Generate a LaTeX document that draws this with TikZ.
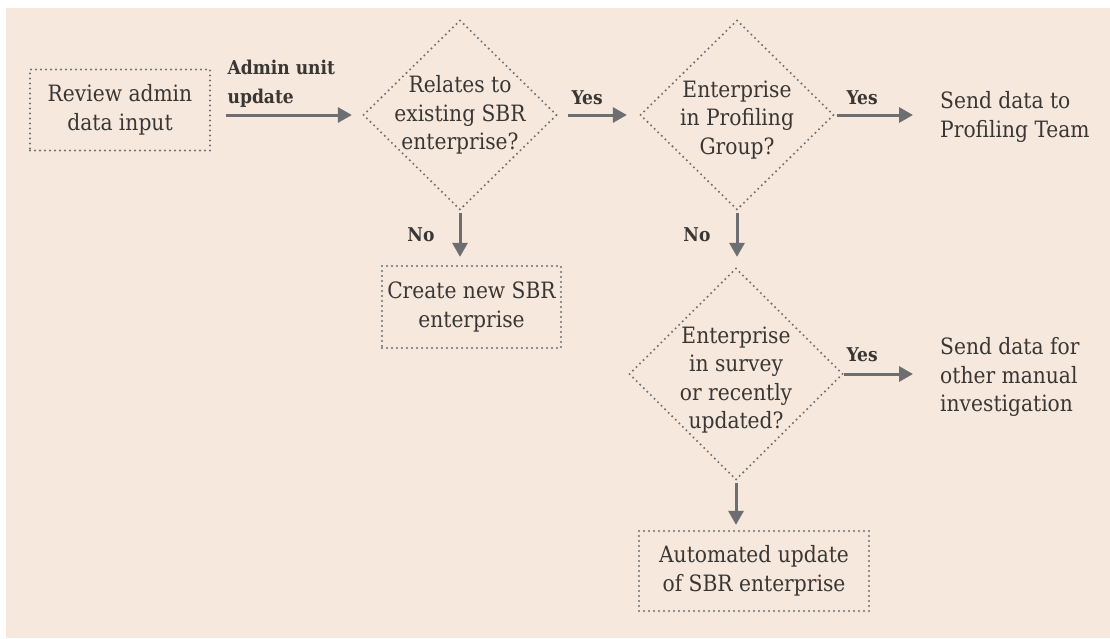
\documentclass[tikz,border=0pt]{standalone}
\usepackage{fontspec}
\setmainfont{DejaVu Serif Condensed}
\usetikzlibrary{shapes.geometric,arrows.meta}
\definecolor{paper}{HTML}{F6E8DC}
\definecolor{ink}{HTML}{3A3634}
\definecolor{dotgray}{HTML}{6F7073}
\definecolor{arrowgray}{HTML}{6D6E71}
\begin{document}
\begin{tikzpicture}[x=1pt,y=-1pt,
  every node/.style={text=ink},
  body/.style={font=\fontsize{22.5}{28.5}\selectfont, align=center, inner sep=0pt},
  note/.style={font=\fontsize{22.5}{28.5}\selectfont, align=left, inner sep=0pt, anchor=west},
  tag/.style={font=\fontsize{19}{29}\selectfont\bfseries, align=left, inner sep=0pt},
  dotline/.style={draw=dotgray, line width=2.3pt, dash pattern=on 0pt off 5pt, line cap=round},
  procbox/.style={body, dotline, rectangle},
  decision/.style={dotline, diamond, inner sep=0pt},
  flow/.style={draw=arrowgray, line width=3pt, -{Triangle[length=14pt,width=15pt]}},
]
\useasboundingbox (0,0) rectangle (1110,638);
\fill[white] (0,0) rectangle (1110,638);
\fill[paper] (6,8) rectangle (1110,638);

% process boxes
\node[procbox, minimum width=180pt, minimum height=81pt] (b1) at (120,110) {Review admin\\data input};
\node[procbox, minimum width=179pt, minimum height=82pt] (b2) at (471.5,307) {Create new SBR\\enterprise};
\node[procbox, minimum width=230pt, minimum height=80pt] (b3) at (754,571) {Automated update\\of SBR enterprise};

% decisions
\node[decision, minimum width=194pt, minimum height=190pt] (d1) at (460,115) {};
\node[body] (d1text) at (460,115) {Relates to\\existing SBR\\enterprise?};
\node[decision, minimum width=194pt, minimum height=190pt] (d2) at (737,115) {};
\node[body] (d2text) at (737,120) {Enterprise\\in Profiling\\Group?};
\node[decision, minimum width=214pt, minimum height=212pt] (d3) at (736,374) {};
\node[body] (d3text) at (736,380) {Enterprise\\in survey\\or recently\\updated?};

% outcomes
\node[note] (o1) at (940,117) {Send data to\\Profiling Team};
\node[note] (o2) at (940,377) {Send data for\\other manual\\investigation};

% connectors
\draw[flow] ([xshift=15pt]b1.east |- d1.west) -- ([xshift=-10pt]d1.west)
  node[tag, at start, anchor=south west, yshift=6pt] {Admin unit\\update};
\draw[flow] ([xshift=10pt]d1.east) -- ([xshift=-12pt]d2.west)
  node[tag, at start, anchor=south west, xshift=2pt, yshift=9pt] {Yes};
\draw[flow] ([xshift=2pt]d2.east) -- ([xshift=-27pt]o1.west |- d2.east)
  node[tag, at start, anchor=south west, xshift=8pt, yshift=9pt] {Yes};
\draw[flow] ([yshift=-2pt]d1.south) -- ([yshift=8pt]d1.south |- b2.north)
  node[tag, midway, anchor=east, xshift=-24pt] {No};
\draw[flow] ([yshift=-2pt]d2.south) -- ([yshift=10pt]d2.south |- d3.north)
  node[tag, midway, anchor=east, xshift=-25pt] {No};
\draw[flow] (d3.east) -- ([xshift=-27pt]o2.west |- d3.east)
  node[tag, at start, anchor=south west, xshift=1pt, yshift=11pt] {Yes};
\draw[flow] ([yshift=-2pt]d3.south) -- ([yshift=5pt]d3.south |- b3.north);
\end{tikzpicture}
\end{document}
